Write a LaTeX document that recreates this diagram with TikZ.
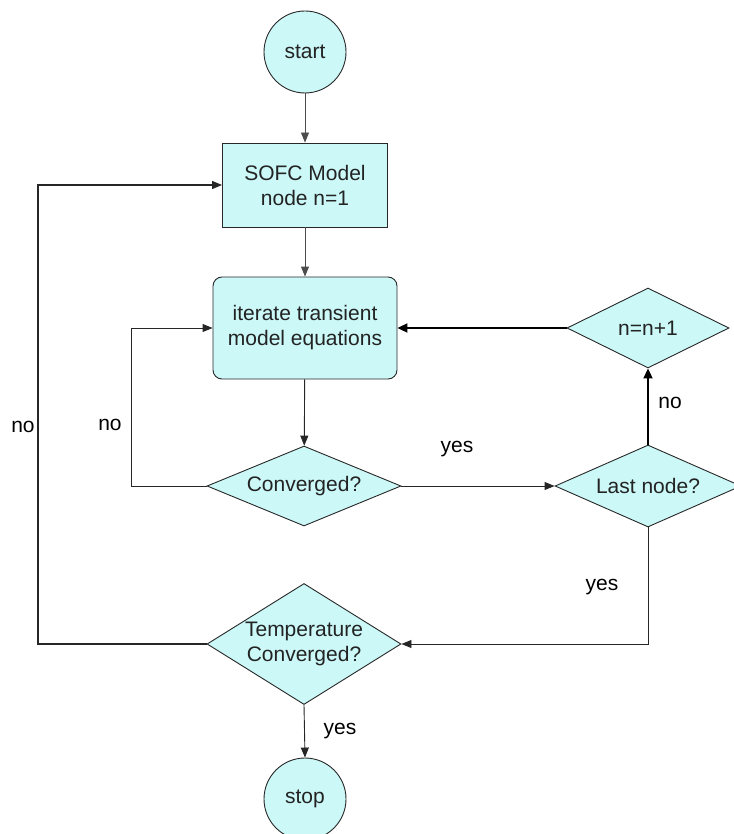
\documentclass[tikz,border=0pt]{standalone}
\usepackage{fontspec}
\setmainfont{Liberation Sans}
\usetikzlibrary{shapes.geometric,arrows.meta}
\definecolor{boxfill}{RGB}{204,248,248}
\definecolor{boxline}{RGB}{40,40,40}
\definecolor{txtgray}{RGB}{35,35,35}
\begin{document}
\begin{tikzpicture}[x=1pt,y=-1pt,
  every node/.style={font=\fontsize{21}{25}\selectfont},
  term/.style={circle,draw=boxline,fill=boxfill,line width=0.9pt,minimum size=82pt,inner sep=0pt,text=txtgray},
  procbox/.style={rectangle,draw=boxline,fill=boxfill,line width=0.9pt,align=center,text=txtgray,inner sep=0pt},
  decis/.style={diamond,draw=boxline,fill=boxfill,line width=0.9pt,inner sep=0pt},
  conn/.style={draw=black!85,line width=0.9pt,-{Triangle[length=10pt,width=8pt]}},
  thick conn/.style={draw=black,line width=2pt,-{Triangle[length=10pt,width=9pt]}},
  lbl/.style={text=black,inner sep=0pt}]
\useasboundingbox (0,0) rectangle (733,834);
% nodes
\node[term] (start) at (305,52) {start};
\node[procbox,minimum width=165pt,minimum height=84pt] (sofc) at (305,185) {SOFC Model\\node n=1};
\node[procbox,rounded corners=9pt,minimum width=184pt,minimum height=102pt] (iter) at (305,328) {iterate transient\\model equations};
\node[decis,minimum width=194pt,minimum height=80pt,label={[text=txtgray]center:Converged?}] (conv) at (304,486) {};
\node[decis,minimum width=186pt,minimum height=82pt,label={[text=txtgray]center:Last node?}] (last) at (648,486) {};
\node[decis,minimum width=162pt,minimum height=80pt,label={[text=txtgray]center:n=n+1}] (nn) at (648,328) {};
\node[decis,minimum width=194pt,minimum height=121pt,label={[text=txtgray,align=center]center:Temperature\\Converged?}] (temp) at (304,644) {};
\node[term] (stop) at (305,799) {stop};
% helper coordinates
\coordinate (c1) at (131,486);
\coordinate (c2) at (131,328);
\coordinate (c3) at (648,644);
\coordinate (c4) at (38,644);
\coordinate (c5) at (38,185);
% connectors
\draw[conn,draw=black!70] (start) -- (sofc);
\draw[conn,draw=black!70] (sofc) -- (iter);
\draw[conn] (iter) -- (conv);
\draw[conn] (conv.east) -- (last.west);
\draw[thick conn] (last.north) -- (nn.south);
\draw[thick conn] (nn.west) -- (iter.east);
\draw[conn] (conv.west) -- (c1) -- (c2) -- (iter.west);
\draw[conn] (last.south) -- (c3) -- (temp.east);
\draw[conn,line width=1.2pt] (temp.west) -- (c4) -- (c5) -- (sofc.west);
\draw[conn] (temp.south) -- (stop.north);
% labels
\node[lbl] (l1) at (457,449) {yes};
\node[lbl] (l2) at (670,403) {no};
\node[lbl] (l3) at (110,425) {no};
\node[lbl] (l4) at (23,427) {no};
\node[lbl] (l5) at (602,587) {yes};
\node[lbl] (l6) at (340,731) {yes};
\end{tikzpicture}
\end{document}
